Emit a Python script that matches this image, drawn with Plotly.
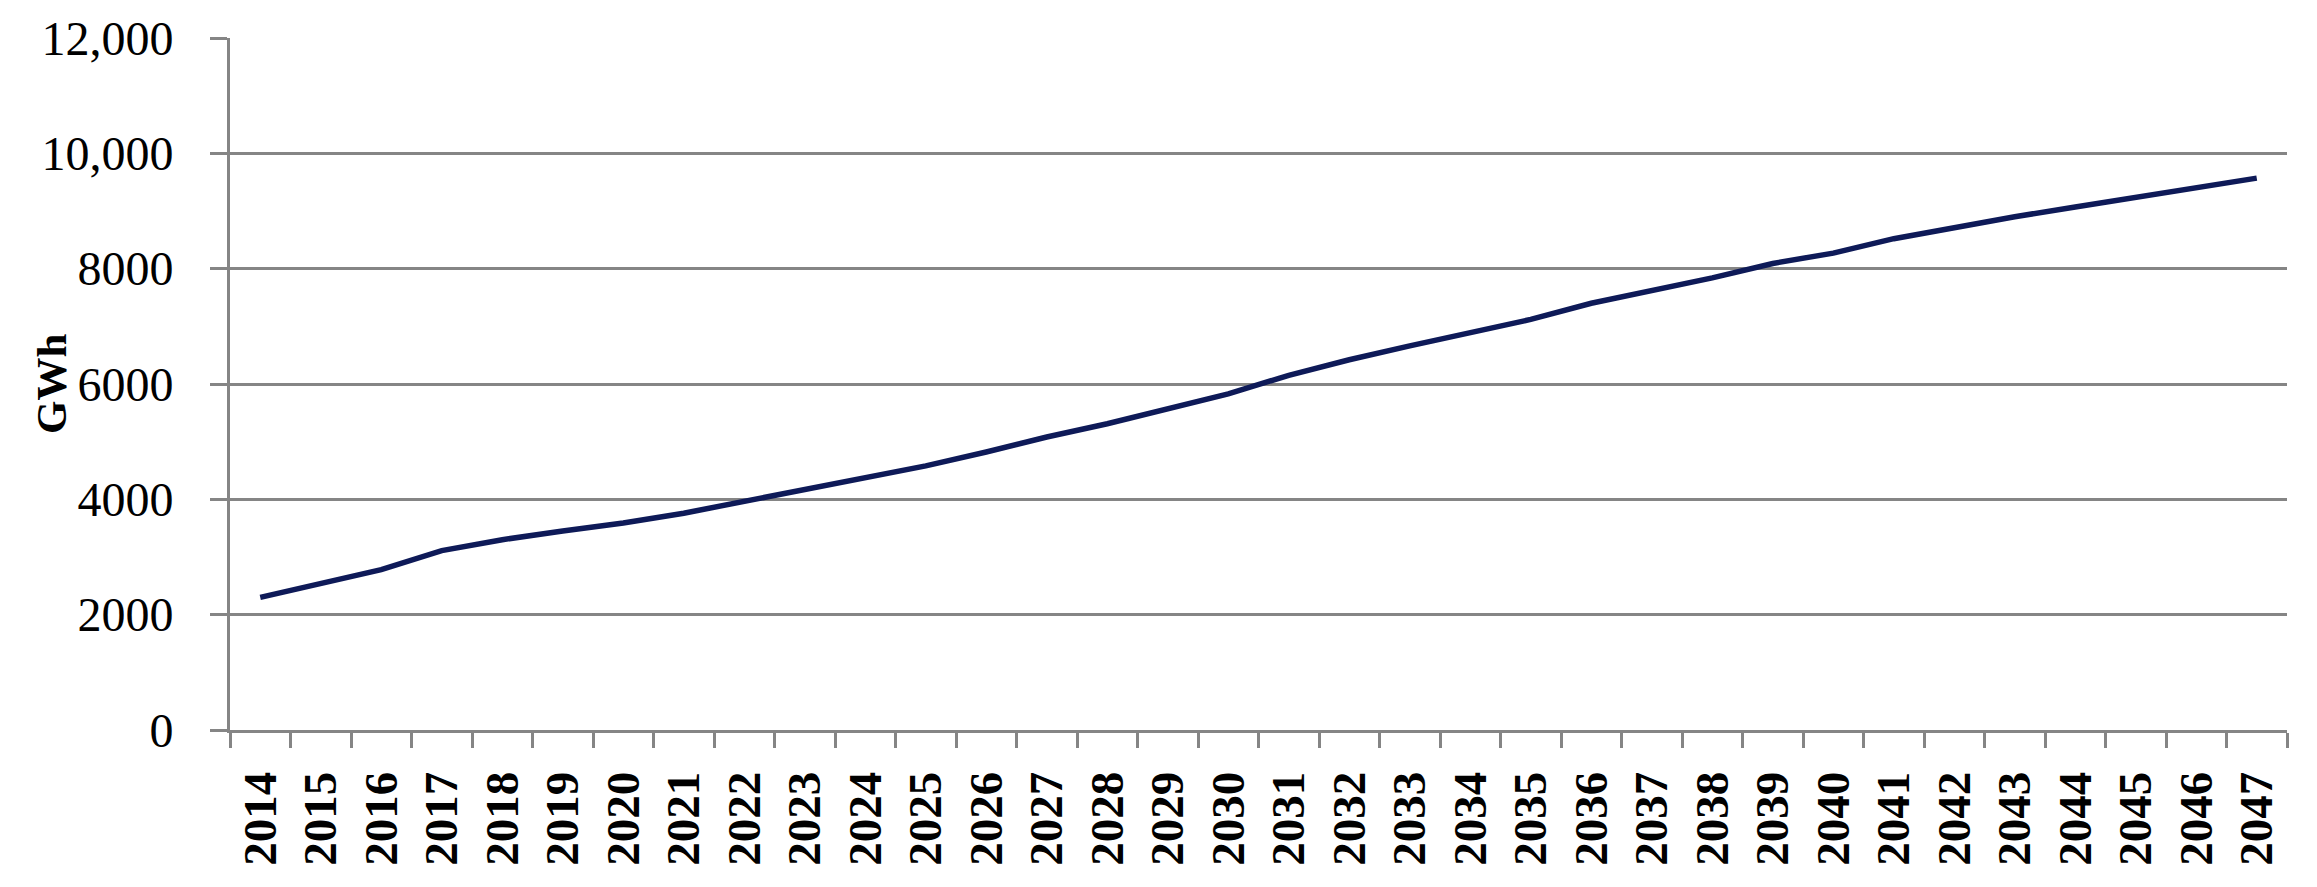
import plotly.graph_objects as go

# ── DATA ──────────────────────────────────────────────────
years = [str(y) for y in range(2014, 2048)]
gwh = [
    2300, 2540, 2780, 3110, 3300, 3450, 3590, 3760, 3970, 4180,
    4390, 4580, 4820, 5080, 5310, 5580, 5830, 6150, 6420, 6660,
    6900, 7120, 7400, 7620, 7840, 8090, 8270, 8520, 8720, 8900,
    9070, 9240, 9410, 9570,
]
y_ticks = [0, 2000, 4000, 6000, 8000, 10000, 12000]
y_labels = ["0", "2000", "4000", "6000", "8000", "10,000", "12,000"]

# ── STYLE ─────────────────────────────────────────────────
LINE = "#0e1a58"
GRID = "#858585"
SERIF = "Liberation Serif, Times New Roman, serif"

fig = go.Figure()
fig.add_trace(go.Scatter(
    x=years, y=gwh,
    mode="lines",
    line=dict(color=LINE, width=5.5),
    showlegend=False,
))

# page body has an 8px margin, so the figure is a little smaller than the window
fig.update_layout(
    width=2309, height=879,
    plot_bgcolor="white",
    paper_bgcolor="white",
    margin=dict(l=222, r=30, t=30, b=157),
    font=dict(family=SERIF, color="black"),
    annotations=[dict(
        text="<b>GWh</b>",
        xref="paper", yref="paper",
        x=-0.087, y=0.5,
        xanchor="center", yanchor="middle",
        textangle=-90,
        showarrow=False,
        font=dict(family=SERIF, size=43, color="black"),
    )],
)

fig.update_xaxes(
    type="category",
    range=[-0.5, len(years) - 0.5],
    tickson="boundaries",
    ticks="outside", ticklen=15, tickwidth=3, tickcolor=GRID,
    tickangle=-90,
    tickfont=dict(family=SERIF, size=47, color="black", weight="bold"),
    ticklabelstandoff=20,
    showline=True, linecolor=GRID, linewidth=3,
    showgrid=False,
    automargin=False,
)
fig.update_yaxes(
    range=[0, 12000],
    tickvals=y_ticks, ticktext=y_labels,
    ticks="outside", ticklen=17, tickwidth=3, tickcolor=GRID,
    tickfont=dict(family=SERIF, size=48, color="black"),
    ticklabelstandoff=27,
    showline=True, linecolor=GRID, linewidth=3,
    showgrid=True, gridcolor=GRID, gridwidth=3,
    zeroline=False,
    automargin=False,
)

fig.write_html("out.html")
